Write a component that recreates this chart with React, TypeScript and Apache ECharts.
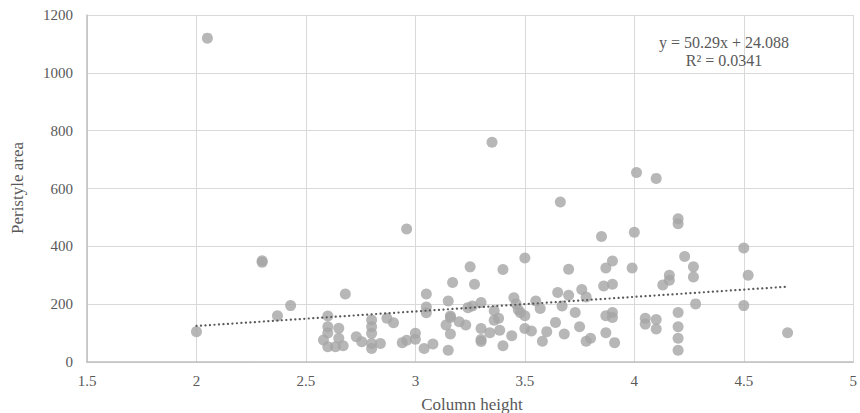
import React, { useEffect, useRef } from "react";
import * as echarts from "echarts";

const columnHeight: number[] = [
  2.0, 2.05, 2.3, 2.3, 2.37, 2.43, 2.68, 2.96,
  2.6, 2.6, 2.6, 2.58, 2.6, 2.635, 2.65, 2.65, 2.67, 2.73, 2.755,
  2.8, 2.8, 2.8, 2.8, 2.8, 2.84, 2.87, 2.9, 2.94, 2.96,
  3.0, 3.0, 3.04, 3.05, 3.05, 3.05, 3.08,
  3.35, 3.662, 4.01, 4.1,
  4.2, 4.2, 3.85, 4.0, 4.5, 4.23, 3.5, 3.9, 3.87, 3.99, 3.7, 3.4, 3.25,
  4.27, 4.27, 4.52, 4.16, 4.16, 4.13, 3.17, 3.27, 3.9, 3.86, 3.65, 3.76,
  3.7, 3.78, 3.45, 3.55, 3.15, 3.46, 3.3, 3.26, 3.24, 3.47, 3.57, 3.67,
  3.48, 3.5, 3.36, 3.73, 3.16, 3.16, 3.87, 3.9, 3.9, 4.2, 4.28, 4.5,
  3.38, 3.36, 3.2, 3.23, 3.14, 4.05, 4.05, 4.1, 4.1, 4.2, 4.2, 4.2,
  3.64, 3.75, 3.3, 3.385, 3.5, 3.53, 3.16, 3.34, 3.6, 3.87, 4.7, 3.44,
  3.68, 3.3, 3.3, 3.8, 3.78, 3.58, 3.91, 3.4, 3.15
];

const peristyleArea: number[] = [
  105, 1120, 345, 350, 160, 195, 235, 460,
  159, 122, 100, 76, 53, 53, 117, 82, 56, 87, 70,
  145, 122, 99, 64, 47, 64, 151, 136, 67, 75,
  99, 79, 47, 235, 190, 170, 62,
  760, 553, 655, 635,
  495, 478, 434, 449, 394, 365, 360, 349, 325, 325, 321, 320, 329,
  329, 294, 300, 300, 283, 266, 275, 269, 269, 263, 240, 251,
  231, 225, 222, 211, 211, 201, 206, 194, 188, 181, 185, 194,
  170, 160, 177, 171, 159, 154, 160, 171, 154, 171, 201, 195,
  151, 144, 139, 128, 128, 151, 131, 147, 114, 122, 82, 41,
  137, 122, 116, 110, 116, 107, 97, 101, 105, 101, 101, 91,
  97, 78, 71, 82, 72, 72, 67, 56, 41
];

const xTicks = [1.5, 2, 2.5, 3, 3.5, 4, 4.5, 5];
const yTicks = [0, 200, 400, 600, 800, 1000, 1200];

const trendSlope = 50.29;
const trendIntercept = 24.088;
const trendRange = [2.0, 4.7];
const equationText = "y = 50.29x + 24.088";
const r2Text = "R² = 0.0341";

const xTitle = "Column height";
const yTitle = "Peristyle area";

const FONT = "'Liberation Serif', 'DejaVu Serif', serif";
const TEXT = "#595959";

export default function App() {
  const ref = useRef<HTMLDivElement>(null);
  useEffect(() => {
    if (!ref.current) return;
    const chart = echarts.init(ref.current, undefined, { renderer: "svg" });
    const points = columnHeight.map((x, i) => [x, peristyleArea[i]]);
    const trend = trendRange.map((x) => [x, trendSlope * x + trendIntercept]);
    chart.setOption({
      animation: false,
      backgroundColor: "#ffffff",
      grid: { left: 87, right: 2, top: 15, bottom: 51, containLabel: false },
      xAxis: {
        type: "value",
        min: xTicks[0],
        max: xTicks[xTicks.length - 1],
        interval: 0.5,
        axisLine: { show: true, lineStyle: { color: "#bfbfbf", width: 1.5 } },
        axisTick: { show: false },
        splitLine: { show: true, lineStyle: { color: "#d9d9d9", width: 1 } },
        axisLabel: {
          color: TEXT,
          fontFamily: FONT,
          fontSize: 15,
          margin: 11,
          showMaxLabel: true,
          showMinLabel: true,
          formatter: (v: number) => String(v),
        },
      },
      yAxis: {
        type: "value",
        min: yTicks[0],
        max: yTicks[yTicks.length - 1],
        interval: 200,
        axisLine: { show: true, lineStyle: { color: "#bfbfbf", width: 1.5 } },
        axisTick: { show: false },
        splitLine: { show: true, lineStyle: { color: "#d9d9d9", width: 1 } },
        axisLabel: {
          color: TEXT,
          fontFamily: FONT,
          fontSize: 15,
          margin: 14,
          formatter: (v: number) => String(v),
        },
      },
      series: [
        {
          type: "scatter",
          data: points,
          symbol: "circle",
          symbolSize: 11,
          itemStyle: { color: "#a5a5a5" },
          z: 3,
        },
        {
          type: "line",
          data: trend,
          showSymbol: false,
          symbol: "none",
          lineStyle: { color: "#595959", width: 2.2, type: [0.1, 4.4], cap: "round" },
          z: 4,
        },
      ],
      graphic: [
        {
          type: "text",
          x: 724,
          y: 42,
          style: {
            text: equationText,
            fill: TEXT,
            font: `16px ${FONT}`,
            align: "center",
            verticalAlign: "middle",
          },
          z: 10,
        },
        {
          type: "text",
          x: 724,
          y: 60,
          style: {
            text: r2Text,
            fill: TEXT,
            font: `16px ${FONT}`,
            align: "center",
            verticalAlign: "middle",
          },
          z: 10,
        },
        {
          type: "text",
          x: 472,
          y: 404,
          style: {
            text: xTitle,
            fill: TEXT,
            font: `17px ${FONT}`,
            align: "center",
            verticalAlign: "middle",
          },
        },
        {
          type: "text",
          x: 17,
          y: 188,
          rotation: Math.PI / 2,
          style: {
            text: yTitle,
            fill: TEXT,
            font: `17px ${FONT}`,
            align: "center",
            verticalAlign: "middle",
          },
        },
      ],
    });
    return () => chart.dispose();
  }, []);
  return <div ref={ref} style={{ width: 860, height: 413, position: "absolute", left: 0, top: 0 }} />;
}
